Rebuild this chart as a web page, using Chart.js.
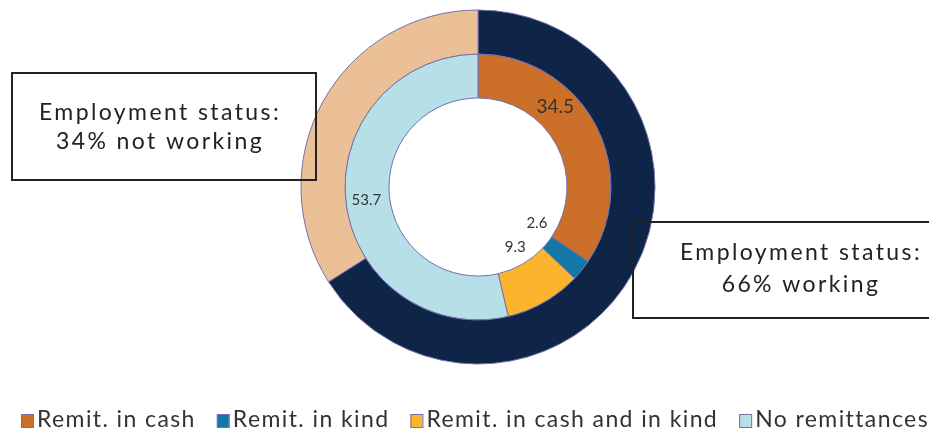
<!DOCTYPE html>
<html lang="en">
<head>
    <meta charset="UTF-8">
    <title>Remittances by employment status</title>
    <script src="https://cdn.jsdelivr.net/npm/chart.js"></script>
    <style>
        html, body { margin: 0; padding: 0; background: #fff; }
        .chart-box { width: 929px; height: 432px; }
    </style>
</head>
<body>
    <div class="chart-box">
        <canvas id="donutCanvas"></canvas>
    </div>
<script>
    // outer ring: employment status
    const statusLabels = ['working', 'not working'];
    const statusValues = [66, 34];
    const statusColors = ['#0e2548', '#ecc097'];

    // inner ring: type of remittance
    const remitLabels = ['Remit. in cash', 'Remit. in kind', 'Remit. in cash and in kind', 'No remittances'];
    const remitValues = [34.5, 2.6, 9.3, 53.7];
    const remitColors = ['#cc6f28', '#1577a8', '#fbb42c', '#b7dfe8'];

    const edgeColor = '#7470ad';
    const textFont = 'Lato, "Open Sans", sans-serif';

    // value labels: shift along the arc (deg), radial position (0 = hole edge, 1 = ring edge), size
    const labelShift = [-18, -7, -2, 0];
    const labelRadius = [0.5, -0.45, -0.42, 0.53];
    const labelSize = [19, 15, 15, 15];

    const valueLabels = {
        id: 'valueLabels',
        afterDatasetsDraw(chart) {
            const ctx = chart.ctx;
            const meta = chart.getDatasetMeta(1);
            ctx.save();
            ctx.textAlign = 'center';
            ctx.textBaseline = 'middle';
            ctx.fillStyle = '#333';
            meta.data.forEach((arc, i) => {
                const p = arc.getProps(['x', 'y', 'startAngle', 'endAngle', 'innerRadius', 'outerRadius'], true);
                const a = (p.startAngle + p.endAngle) / 2 + labelShift[i] * Math.PI / 180;
                const r = p.innerRadius + (p.outerRadius - p.innerRadius) * labelRadius[i];
                ctx.font = labelSize[i] + 'px ' + textFont;
                ctx.fillText(remitValues[i].toFixed(1), p.x + Math.cos(a) * r, p.y + Math.sin(a) * r);
            });
            ctx.restore();
        }
    };

    // framed notes for the two employment groups
    const statusNotes = {
        id: 'statusNotes',
        afterDraw(chart) {
            const ctx = chart.ctx;
            const notes = [
                { box: [633, 222, 310, 96], cx: 801, lines: ['Employment status:', statusValues[0] + '% ' + statusLabels[0]], base: [260, 292] },
                { box: [12, 73, 304, 107], cx: 160, lines: ['Employment status:', statusValues[1] + '% ' + statusLabels[1]], base: [120, 149] }
            ];
            ctx.save();
            ctx.strokeStyle = '#222';
            ctx.lineWidth = 2;
            ctx.fillStyle = '#222';
            ctx.textAlign = 'center';
            ctx.textBaseline = 'alphabetic';
            ctx.font = '23px ' + textFont;
            ctx.letterSpacing = '2.4px';
            notes.forEach(n => {
                ctx.strokeRect(n.box[0], n.box[1], n.box[2], n.box[3]);
                n.lines.forEach((t, k) => ctx.fillText(t, n.cx, n.base[k]));
            });
            ctx.restore();
        }
    };

    // legend row along the bottom
    const bottomLegend = {
        id: 'bottomLegend',
        afterDraw(chart) {
            const ctx = chart.ctx;
            const ds = chart.data.datasets[1];
            let x = 21;
            ctx.save();
            ctx.font = '23px ' + textFont;
            ctx.letterSpacing = '1.4px';
            ctx.textBaseline = 'alphabetic';
            remitLabels.forEach((lab, i) => {
                ctx.fillStyle = ds.backgroundColor[i];
                ctx.fillRect(x, 414, 12, 13);
                ctx.strokeStyle = edgeColor;
                ctx.lineWidth = 1;
                ctx.strokeRect(x + 0.5, 414.5, 12, 13);
                ctx.fillStyle = '#333';
                ctx.fillText(lab, x + 16, 427);
                x += 16 + ctx.measureText(lab).width + 21;
            });
            ctx.restore();
        }
    };

    const ctx = document.getElementById('donutCanvas').getContext('2d');
    const chartInstance = new Chart(ctx, {
        type: 'doughnut',
        data: {
            labels: remitLabels,
            datasets: [{
                label: 'Employment status',
                data: statusValues,
                backgroundColor: statusColors,
                borderColor: edgeColor,
                borderWidth: 1
            }, {
                label: 'Remittances',
                data: remitValues,
                backgroundColor: remitColors,
                borderColor: edgeColor,
                borderWidth: 1
            }]
        },
        options: {
            responsive: true,
            maintainAspectRatio: false,
            animation: false,
            radius: 177,
            cutout: '50.3%',
            layout: { padding: { left: 27, right: 0, top: 10, bottom: 68 } },
            plugins: {
                legend: { display: false },
                tooltip: { enabled: false }
            }
        },
        plugins: [valueLabels, statusNotes, bottomLegend]
    });
</script>
</body>
</html>
